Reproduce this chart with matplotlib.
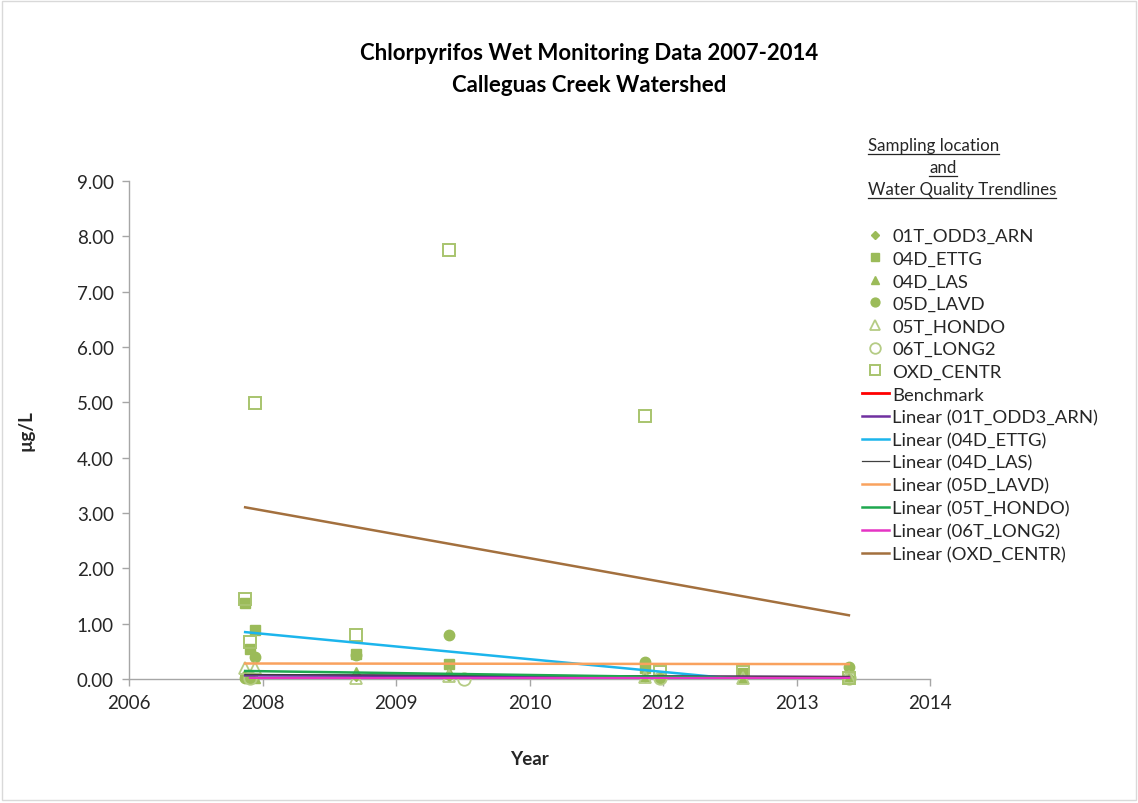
import numpy as np
import matplotlib
matplotlib.use("Agg")
import matplotlib.pyplot as plt
from matplotlib.lines import Line2D
from matplotlib.patches import Rectangle

plt.rcParams['font.family'] = ['Lato', 'DejaVu Sans']

# ---------------- data (decimal years, ug/L) ----------------
odd3_x = [2007.86, 2008.97, 2009.90, 2011.85, 2012.83, 2013.89]
odd3_y = [0.07, 0.06, 0.05, 0.04, 0.04, 0.04]

ettg_x = [2007.86, 2007.91, 2007.96, 2008.97, 2009.90, 2011.85, 2012.83]
ettg_y = [1.38, 0.54, 0.88, 0.45, 0.27, 0.20, 0.10]

las_x = [2007.86, 2007.96, 2008.97, 2009.90, 2011.85, 2012.83, 2013.89]
las_y = [0.08, 0.02, 0.12, 0.12, 0.05, 0.02, 0.05]

lavd_x = [2007.86, 2007.91, 2007.96, 2008.97, 2009.90, 2011.85, 2012.00, 2013.89]
lavd_y = [0.02, 0.02, 0.40, 0.43, 0.80, 0.30, 0.02, 0.22]

hondo_x = [2007.86, 2007.96, 2008.97, 2009.90, 2011.85, 2012.83, 2013.89]
hondo_y = [0.20, 0.20, 0.02, 0.05, 0.03, 0.02, 0.03]

long2_x = [2007.91, 2010.05, 2012.00, 2013.89]
long2_y = [0.02, 0.00, 0.02, 0.02]

oxd_x = [2007.86, 2007.91, 2007.96, 2008.97, 2009.90, 2011.85, 2012.00, 2012.83, 2013.89]
oxd_y = [1.45, 0.67, 4.99, 0.80, 7.75, 4.75, 0.12, 0.12, 0.02]

bench_x = [2008.00, 2013.89]
bench_y = [0.025, 0.025]

x_tick_labels = ['2006', '2008', '2009', '2010', '2012', '2013', '2014']
y_ticks = [0, 1, 2, 3, 4, 5, 6, 7, 8, 9]

# ---------------- styling ----------------
GREEN = '#9BBB59'
LIGHT = '#B5CC85'
TXT = '#262626'

W, H = 1138, 804
fig = plt.figure(figsize=(W / 100, H / 100), dpi=100)
fig.patches.append(Rectangle((0.002, 0.004), 0.996, 0.993, transform=fig.transFigure,
                             fill=False, edgecolor='#D9D9D9', linewidth=1.0))

ax = fig.add_axes([129 / W, 1 - 680 / H, (930 - 129) / W, (680 - 182) / H])

xmin, xmax = 2006.70, 2014.70
ax.set_xlim(xmin, xmax)
ax.set_ylim(0, 9)
ax.set_xticks(np.linspace(xmin, xmax, len(x_tick_labels)))
ax.set_xticklabels(x_tick_labels)
ax.set_yticks(y_ticks)
ax.set_yticklabels([f'{v:.2f}' for v in y_ticks])

for s in ['top', 'right']:
    ax.spines[s].set_visible(False)
for s in ['left', 'bottom']:
    ax.spines[s].set_color('#A6A6A6')
    ax.spines[s].set_linewidth(1.0)
ax.tick_params(axis='both', colors='#A6A6A6', length=5, width=1.0,
               labelcolor=TXT, labelsize=13.5)
ax.tick_params(axis='x', pad=6)
ax.tick_params(axis='y', pad=6)

ax.set_xlabel('Year', fontsize=13.5, fontweight='bold', labelpad=28, color=TXT)
ax.set_ylabel('µg/L', fontsize=13.5, fontweight='bold', labelpad=30, color=TXT)

# benchmark
ax.plot(bench_x, bench_y, color='#FF0000', lw=2.0, zorder=2, clip_on=False)

# markers
series = [
    ('01T_ODD3_ARN', odd3_x, odd3_y, dict(marker='D', ms=5, mfc=GREEN, mec=GREEN), '#7030A0', 1.8),
    ('04D_ETTG', ettg_x, ettg_y, dict(marker='s', ms=7, mfc=GREEN, mec=GREEN), '#1CB5EC', 1.8),
    ('04D_LAS', las_x, las_y, dict(marker='^', ms=7.5, mfc=GREEN, mec=GREEN), '#404040', 0.9),
    ('05D_LAVD', lavd_x, lavd_y, dict(marker='o', ms=7.5, mfc=GREEN, mec=GREEN), '#F9A25E', 1.8),
    ('05T_HONDO', hondo_x, hondo_y, dict(marker='^', ms=9, mfc='none', mec=LIGHT, mew=1.3), '#1EA84F', 1.8),
    ('06T_LONG2', long2_x, long2_y, dict(marker='o', ms=9, mfc='none', mec=LIGHT, mew=1.3), '#E534C4', 1.8),
    ('OXD_CENTR', oxd_x, oxd_y, dict(marker='s', ms=9, mfc='none', mec='#A8C46E', mew=1.4), '#A3703E', 1.8),
]

for name, xs, ys, mk, lc, lw in series:
    ax.plot(xs, ys, linestyle='none', zorder=3, clip_on=False, **mk)

for name, xs, ys, mk, lc, lw in series:
    xs_a = np.array(xs)
    k, b = np.polyfit(xs_a, np.array(ys), 1)
    xl = np.array([xs_a.min(), xs_a.max()])
    ax.plot(xl, k * xl + b, color=lc, lw=lw, zorder=4)

# title
fig.text(589 / W, 1 - 53 / H, 'Chlorpyrifos Wet Monitoring Data 2007-2014',
         ha='center', va='center', fontsize=16, fontweight='bold', color='#000000')
fig.text(589 / W, 1 - 85 / H, 'Calleguas Creek Watershed',
         ha='center', va='center', fontsize=16, fontweight='bold', color='#000000')

# legend header (underlined)
hdr = [
    ('Sampling location', 868, 146, 'left'),
    ('and', 943, 168, 'center'),
    ('Water Quality Trendlines', 868, 190, 'left'),
]
hdr_texts = []
for t, x, y, ha in hdr:
    hdr_texts.append(fig.text(x / W, 1 - y / H, t, ha=ha, va='center', fontsize=12.2, color=TXT))

# legend
handles = []
labels = []
for name, xs, ys, mk, lc, lw in series:
    m = dict(mk)
    m['ms'] = m['ms'] * 0.85
    handles.append(Line2D([], [], linestyle='none', **m))
    labels.append(name)
handles.append(Line2D([], [], color='#FF0000', lw=2.0))
labels.append('Benchmark')
for name, xs, ys, mk, lc, lw in series:
    handles.append(Line2D([], [], color=lc, lw=lw))
    labels.append(f'Linear ({name})')

fig.legend(handles, labels, loc='upper left', bbox_to_anchor=(862 / W, 1 - 229 / H),
           frameon=False, fontsize=13.3, handlelength=1.45, handletextpad=0.2,
           labelspacing=0.36, borderpad=0, borderaxespad=0, labelcolor=TXT)

fig.canvas.draw()
r = fig.canvas.get_renderer()
for t in hdr_texts:
    bb = t.get_window_extent(renderer=r)
    yline = bb.y0 - 1
    fig.add_artist(Line2D([bb.x0 / W, bb.x1 / W], [yline / H, yline / H],
                          transform=fig.transFigure, color=TXT, lw=0.9))

fig.savefig('out.png', dpi=100)
